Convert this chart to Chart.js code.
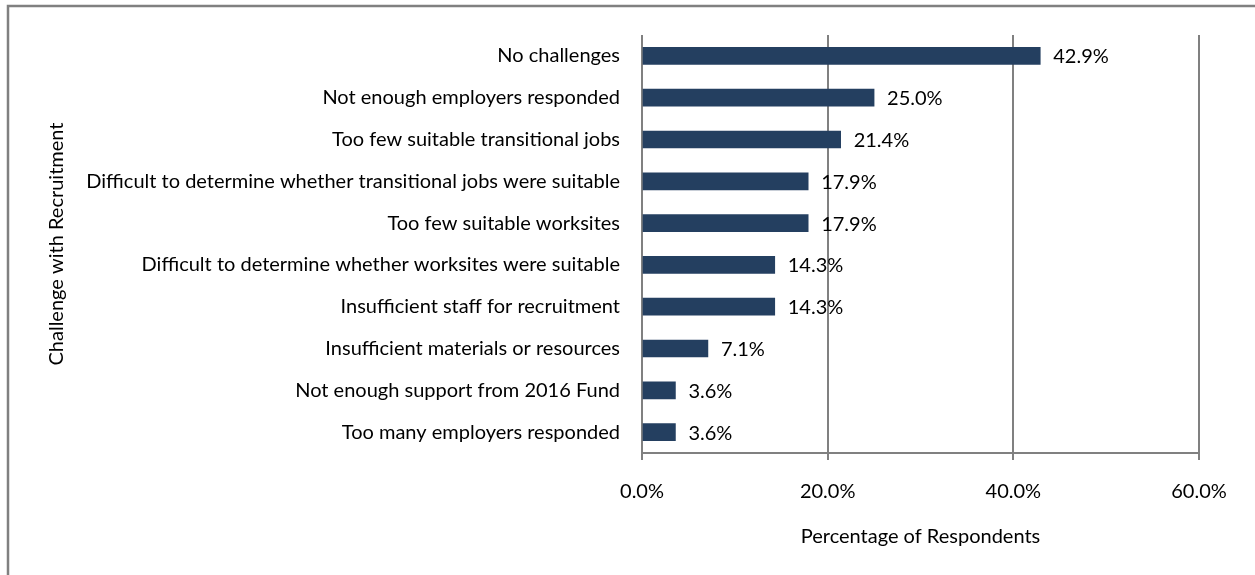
<!DOCTYPE html>
<html>
<head>
<meta charset="utf-8">
<script src="https://cdn.jsdelivr.net/npm/chart.js@4.4.1/dist/chart.umd.min.js"></script>
<style>
    html, body { margin: 0; padding: 0; background: #fff; overflow: hidden; }
    #wrap { position: absolute; left: 0; top: 0; width: 1255px; height: 575px; }
</style>
</head>
<body>
<div id="wrap"><canvas id="recruitChart"></canvas></div>
<script>
// ==================== DATA ====================
const challenges = [
    'No challenges',
    'Not enough employers responded',
    'Too few suitable transitional jobs',
    'Difficult to determine whether transitional jobs were suitable',
    'Too few suitable worksites',
    'Difficult to determine whether worksites were suitable',
    'Insufficient staff for recruitment',
    'Insufficient materials or resources',
    'Not enough support from 2016 Fund',
    'Too many employers responded'
];
const respondentPct = [42.9, 25.0, 21.4, 17.9, 17.9, 14.3, 14.3, 7.1, 3.6, 3.6];
const xTicks = [0, 20, 40, 60];

const FONT = "Lato, 'Open Sans', sans-serif";
const FSIZE = 20;
const GRID = '#808080';
const BAR = '#243F60';

// ==================== PLUGINS ====================
// Outer frame (top and left edges only are in view)
const framePlugin = {
    id: 'frame',
    beforeDraw(chart) {
        const c = chart.ctx;
        c.save();
        c.strokeStyle = GRID;
        c.lineWidth = 2.5;
        c.beginPath();
        c.moveTo(8, chart.height + 5);
        c.lineTo(8, 6);
        c.lineTo(chart.width + 5, 6);
        c.stroke();
        c.restore();
    }
};

// Value labels to the right of each bar
const valueLabels = {
    id: 'valueLabels',
    afterDatasetsDraw(chart) {
        const c = chart.ctx;
        const meta = chart.getDatasetMeta(0);
        c.save();
        c.font = `${FSIZE}px ${FONT}`;
        c.fillStyle = '#000';
        c.textAlign = 'left';
        c.textBaseline = 'middle';
        meta.data.forEach((bar, i) => {
            c.fillText(respondentPct[i].toFixed(1) + '%', bar.x + 13, bar.y + 1);
        });
        c.restore();
    }
};

// ==================== CHART ====================
new Chart(document.getElementById('recruitChart'), {
    type: 'bar',
    data: {
        labels: challenges,
        datasets: [{
            data: respondentPct,
            backgroundColor: BAR,
            borderWidth: 0,
            barThickness: 17
        }]
    },
    options: {
        indexAxis: 'y',
        responsive: true,
        maintainAspectRatio: false,
        animation: false,
        layout: { padding: { top: 35, right: 56, left: 0, bottom: 0 } },
        plugins: {
            legend: { display: false },
            tooltip: { enabled: false }
        },
        scales: {
            x: {
                min: 0,
                max: 60,
                afterBuildTicks: scale => { scale.ticks = xTicks.map(v => ({ value: v })); },
                afterFit: scale => { scale.height = 122; },
                grid: { color: GRID, lineWidth: 2, tickLength: 7, drawTicks: true },
                border: { color: GRID, width: 2 },
                ticks: {
                    padding: 20,
                    color: '#000',
                    font: { family: FONT, size: FSIZE },
                    callback: v => v.toFixed(1) + '%'
                },
                title: {
                    display: true,
                    text: 'Percentage of Respondents',
                    color: '#000',
                    font: { family: FONT, size: FSIZE },
                    padding: { top: 0, bottom: 26 }
                }
            },
            y: {
                afterFit: scale => { scale.width = 642; },
                grid: { display: false, drawTicks: false },
                border: { display: false },
                ticks: {
                    padding: 22,
                    color: '#000',
                    font: { family: FONT, size: FSIZE }
                },
                title: {
                    display: true,
                    text: 'Challenge with Recruitment',
                    color: '#000',
                    font: { family: FONT, size: FSIZE },
                    padding: { top: 45, bottom: 0 }
                }
            }
        }
    },
    plugins: [framePlugin, valueLabels]
});
</script>
</body>
</html>
